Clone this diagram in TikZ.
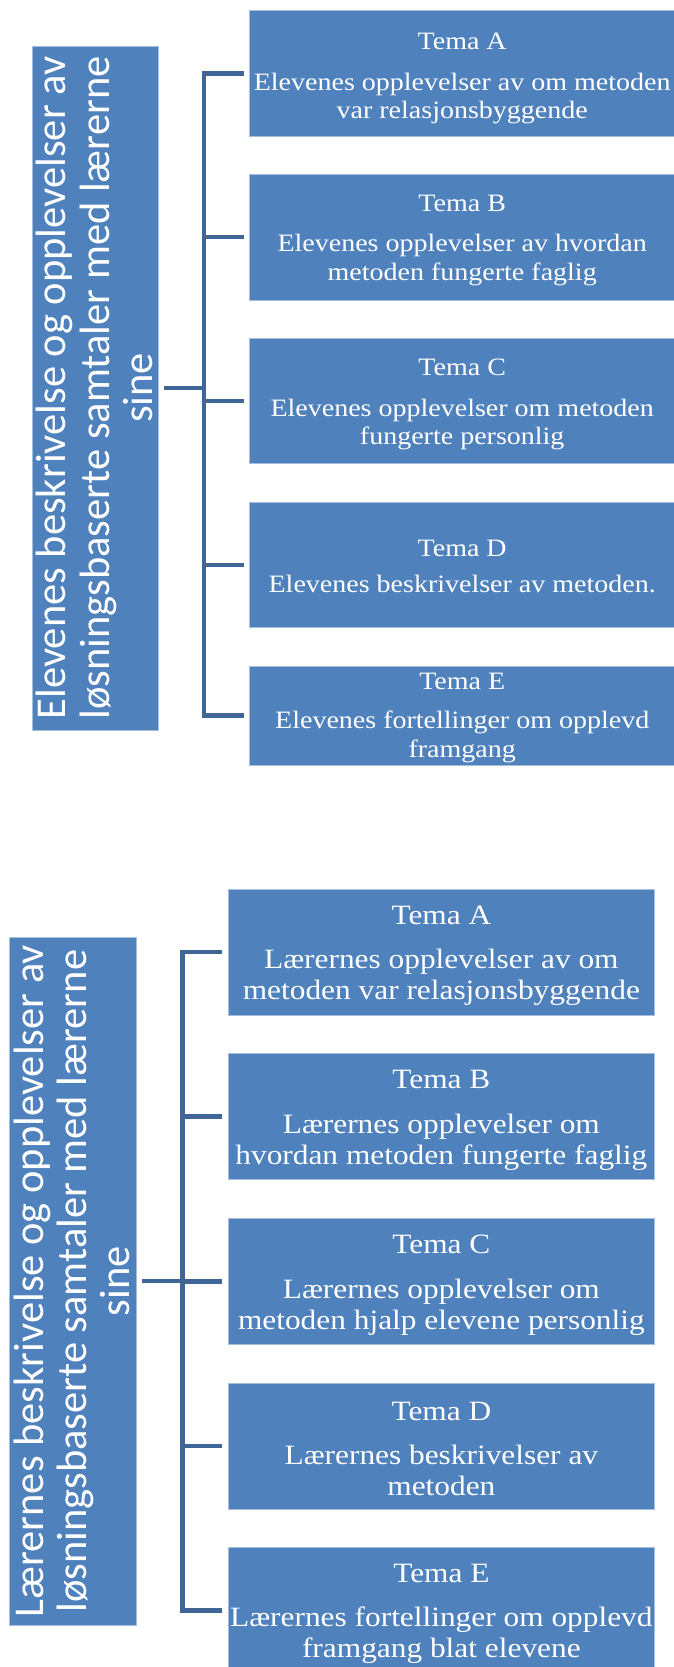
\documentclass[tikz,border=0pt]{standalone}
\usepackage{fontspec}
\setmainfont{Liberation Serif}[FakeStretch=1.12]
\newfontfamily\sidefont{Carlito}
\definecolor{boxblue}{RGB}{79,129,189}
\definecolor{boxedge}{RGB}{167,191,222}
\definecolor{connblue}{RGB}{64,102,152}
\begin{document}
\begin{tikzpicture}[x=1pt,y=-1pt,
  tema/.style={rectangle, fill=boxblue, draw=boxedge, line width=0.8pt, inner sep=0pt},
  topbox/.style={tema, minimum width=425.6pt, minimum height=125.5pt},
  botbox/.style={tema, minimum width=426.9pt, minimum height=126pt},
  toptext/.style={align=center, text=white, inner sep=0pt, font=\fontsize{25}{28.3}\selectfont},
  bottext/.style={align=center, text=white, inner sep=0pt, font=\fontsize{28}{31}\selectfont},
  sidebox/.style={rectangle, fill=boxblue, draw=boxedge, line width=0.8pt, inner sep=0pt},
  sidetext/.style={rotate=90, align=center, text=white, inner sep=0pt, font=\sidefont\fontsize{42.5}{43.3}\selectfont},
  conn/.style={draw=connblue, line width=4.5pt}]
\useasboundingbox (0,0) rectangle (674,1667);
\clip (0,0) rectangle (674,1667);

% ---------- top section ----------
\node[sidebox, minimum width=125.5pt, minimum height=684pt] (L1) at (95.45,388) {};
\node[sidetext] (L1t) at (94.5,388) {Elevenes beskrivelse og opplevelser av\\løsningsbaserte samtaler med lærerne\\sine};

\node[topbox] (tA) at (462.2,73.5) {};
\node[topbox] (tB) at (462.2,237.2) {};
\node[topbox] (tC) at (462.2,400.8) {};
\node[topbox] (tD) at (462.2,565) {};
\node[topbox, minimum height=99pt] (tE) at (462.2,715.5) {};
\node[toptext] (tAt) at ([yshift=-5pt]tA.center) {Tema A\\[12.4pt]Elevenes opplevelser av om metoden\\var relasjonsbyggende};
\node[toptext] (tBt) at ([yshift=-3pt]tB.center) {Tema B\\[12.4pt]Elevenes opplevelser av hvordan\\metoden fungerte faglig};
\node[toptext] (tCt) at ([yshift=-3.5pt]tC.center) {Tema C\\[12.4pt]Elevenes opplevelser om metoden\\fungerte personlig};
\node[toptext] (tDt) at ([yshift=-1.5pt]tD.center) {Tema D\\[8pt]Elevenes beskrivelser av metoden.};
\node[toptext] (tEt) at ([yshift=-2.5pt]tE.center) {Tema E\\[10.5pt]Elevenes fortellinger om opplevd\\framgang};

\coordinate (j1) at (204.2,388);
\draw[conn] ([xshift=-5.4pt]tA.west) -- (tA.west -| j1) -- (tE.west -| j1) -- ([xshift=-5.4pt]tE.west);
\foreach \n in {tB,tC,tD} \draw[conn] (\n.west -| j1) -- ([xshift=-5.4pt]\n.west);
\draw[conn] ([xshift=5.2pt]L1.east) -- (j1);

% ---------- bottom section ----------
\node[sidebox, minimum width=126.8pt, minimum height=687.7pt] (L2) at (72.9,1281.2) {};
\node[sidetext] (L2t) at (72,1281.2) {Lærernes beskrivelse og opplevelser av\\løsningsbaserte samtaler med lærerne\\sine};

\node[botbox] (bA) at (441.35,952) {};
\node[botbox] (bB) at (441.35,1116.3) {};
\node[botbox] (bC) at (441.35,1281.3) {};
\node[botbox] (bD) at (441.35,1446.2) {};
\node[botbox] (bE) at (441.35,1610.7) {};
\node[bottext] (bAt) at ([yshift=-4pt]bA.center) {Tema A\\[13.3pt]Lærernes opplevelser av om\\metoden var relasjonsbyggende};
\node[bottext] (bBt) at ([yshift=-4pt]bB.center) {Tema B\\[13.3pt]Lærernes opplevelser om\\hvordan metoden fungerte faglig};
\node[bottext] (bCt) at ([yshift=-4pt]bC.center) {Tema C\\[13.3pt]Lærernes opplevelser om\\metoden hjalp elevene personlig};
\node[bottext] (bDt) at ([yshift=-2.5pt]bD.center) {Tema D\\[13.3pt]Lærernes beskrivelser av\\metoden};
\node[bottext] (bEt) at ([yshift=-3pt]bE.center) {Tema E\\[13.3pt]Lærernes fortellinger om opplevd\\framgang blat elevene};

\coordinate (j2) at (182.7,1281.2);
\draw[conn] ([xshift=-5.2pt]bA.west) -- (bA.west -| j2) -- (bE.west -| j2) -- ([xshift=-5.2pt]bE.west);
\foreach \n in {bB,bC,bD} \draw[conn] (\n.west -| j2) -- ([xshift=-5.2pt]\n.west);
\draw[conn] ([xshift=5.6pt]L2.east) -- (j2);
\end{tikzpicture}
\end{document}
